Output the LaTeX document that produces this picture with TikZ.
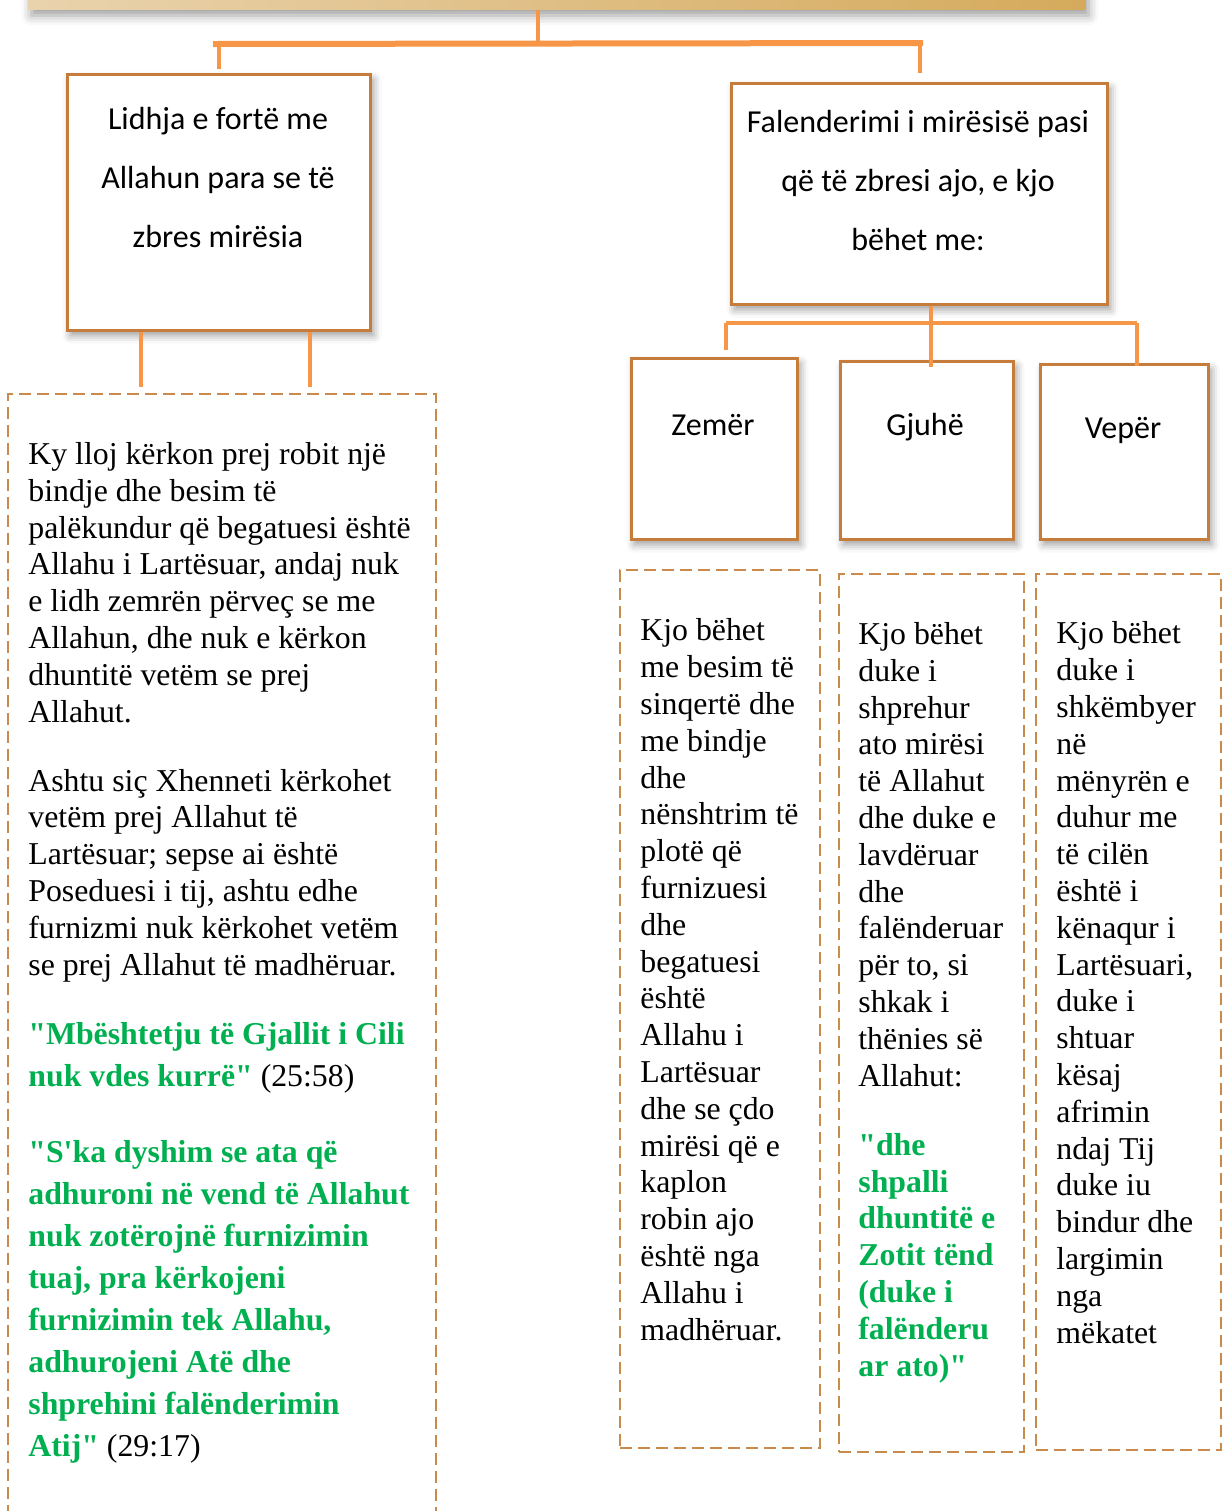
\documentclass[tikz,border=0pt]{standalone}
\usepackage{fontspec}
\setmainfont{Liberation Serif}
\newfontfamily\calibri{Carlito}
\usetikzlibrary{positioning,shadows.blur}

\definecolor{conn}{HTML}{F79646}
\definecolor{boxline}{HTML}{C67C3A}
\definecolor{dashline}{HTML}{C98B4C}
\definecolor{ayet}{HTML}{00B050}
\definecolor{barleft}{HTML}{E9D3AD}
\definecolor{barright}{HTML}{D5AA5C}

\newcommand{\ay}[1]{{\color{ayet}\bfseries #1}}
\newcommand{\qq}{\textquotedbl}

\begin{document}
\begin{tikzpicture}[x=0.5pt,y=-0.5pt,
    solidbox/.style={draw=boxline,line width=1.5pt,fill=white,anchor=north west,inner sep=0pt,
      blur shadow={shadow xshift=1.5pt,shadow yshift=-2.5pt,shadow blur radius=4pt,shadow opacity=40}},
    dashbox/.style={draw=dashline,line width=1pt,dash pattern=on 6pt off 3pt,anchor=north west,inner sep=0pt},
    wire/.style={draw=conn,line width=2pt},
    headtext/.style={font=\calibri\fontsize{16}{29.3}\selectfont,align=center,anchor=base},
    bodytext/.style={font=\fontsize{15.9}{18.4}\selectfont,align=left,anchor=base west,inner sep=0pt}]
  \path[use as bounding box] (0,0) rectangle (1227,1511);

  % boxes
  \node[anchor=north west,inner sep=0pt,left color=barleft,right color=barright,
        minimum width=528.5pt,minimum height=24.5pt,
        blur shadow={shadow xshift=1.5pt,shadow yshift=-3pt,shadow blur radius=5pt,shadow opacity=40}]
        (top) at (28,-40) {};
  \node[solidbox,minimum width=151.5pt,minimum height=128pt] (lidhja) at (66,73) {};
  \node[solidbox,minimum width=188pt,minimum height=110.5pt] (falend) at (730,82) {};
  \node[solidbox,minimum width=83pt,minimum height=90.5pt]   (zemer)  at (630,357) {};
  \node[solidbox,minimum width=86.5pt,minimum height=89pt]   (gjuhe)  at (839,360) {};
  \node[solidbox,minimum width=84pt,minimum height=87.5pt]   (veper)  at (1039,363) {};

  \node[dashbox,minimum width=214pt,minimum height=573.5pt] (dlidhja) at (7,393) {};
  \node[dashbox,minimum width=100pt,minimum height=439pt]   (dzemer)  at (619,569) {};
  \node[dashbox,minimum width=92.5pt,minimum height=439pt]  (dgjuhe)  at (838,573) {};
  \node[dashbox,minimum width=92.5pt,minimum height=438pt]  (dveper)  at (1035,573) {};

  % connectors
  \coordinate (hub)  at (538,44);
  \coordinate (hubl) at (213,44);
  \coordinate (hubr) at (923,43);
  \coordinate (hub2) at (931,323);
  \coordinate (z2)   at (726,323);
  \coordinate (v2)   at (1137,323);
  \coordinate (l1)   at (141,360);
  \coordinate (l2)   at (310,360);

  \draw[wire] (top.south -| hub) -- (hub);
  \draw[wire,line width=3pt] (hubl) -- (hubr);
  \draw[wire,shorten >=2pt] (lidhja.north |- hubl) -- (lidhja.north);
  \draw[wire,shorten >=4.5pt] (falend.north |- hubr) -- (falend.north);
  \draw[wire] (falend.south -| hub2) -- ([yshift=-3.5pt]gjuhe.north -| hub2);
  \draw[wire] (z2) -- (v2);
  \draw[wire,shorten >=3.5pt] (z2) -- (z2 |- zemer.north);
  \draw[wire,shorten >=-1.5pt] (v2) -- (v2 |- veper.north);
  \draw[wire,shorten >=3pt] (lidhja.south -| l1) -- (dlidhja.north -| l1);
  \draw[wire,shorten >=3pt] (lidhja.south -| l2) -- (dlidhja.north -| l2);

  % titles (anchored on the last line)
  \node[headtext] (lidhjatxt) at (218,247) {Lidhja e fortë me\\Allahun para se të\\zbres mirësia};
  \node[headtext] (falendtxt) at (918,250) {Falenderimi i mirësisë pasi\\që të zbresi ajo, e kjo\\bëhet me:};
  \node[headtext] (zemertxt) at (713,435) {Zemër};
  \node[headtext] (gjuhetxt) at (925,435) {Gjuhë};
  \node[headtext] (vepertxt) at (1123,438) {Vepër};

  % left column
  \node[bodytext] (p1) at (28,722) {Ky lloj kërkon prej robit një\\bindje dhe besim të\\palëkundur që begatuesi është\\Allahu i Lartësuar, andaj nuk\\e lidh zemrën përveç se me\\Allahun, dhe nuk e kërkon\\dhuntitë vetëm se prej\\Allahut.};
  \node[bodytext] (p2) at (28,975) {Ashtu siç Xhenneti kërkohet\\vetëm prej Allahut të\\Lartësuar; sepse ai është\\Poseduesi i tij, ashtu edhe\\furnizmi nuk kërkohet vetëm\\se prej Allahut të madhëruar.};
  \node[bodytext,font=\fontsize{15.9}{21}\selectfont] (p3) at (28,1086) {\ay{\qq Mbështetju të Gjallit i Cili}\\\ay{nuk vdes kurrë\qq} (25:58)};
  \node[bodytext,font=\fontsize{15.9}{21}\selectfont] (p4) at (28,1456) {\ay{\qq S\textquotesingle ka dyshim se ata që}\\\ay{adhuroni në vend të Allahut}\\\ay{nuk zotërojnë furnizimin}\\\ay{tuaj, pra kërkojeni}\\\ay{furnizimin tek Allahu,}\\\ay{adhurojeni Atë dhe}\\\ay{shprehini falënderimin}\\\ay{Atij\qq} (29:17)};

  % right columns
  \node[bodytext] (tzemer) at (640,1340) {Kjo bëhet\\me besim të\\sinqertë dhe\\me bindje\\dhe\\nënshtrim të\\plotë që\\furnizuesi\\dhe\\begatuesi\\është\\Allahu i\\Lartësuar\\dhe se çdo\\mirësi që e\\kaplon\\robin ajo\\është nga\\Allahu i\\madhëruar.};
  \node[bodytext] (tgjuhe) at (858,1086) {Kjo bëhet\\duke i\\shprehur\\ato mirësi\\të Allahut\\dhe duke e\\lavdëruar\\dhe\\falënderuar\\për to, si\\shkak i\\thënies së\\Allahut:};
  \node[bodytext] (tgjuhe2) at (858,1376) {\ay{\qq dhe}\\\ay{shpalli}\\\ay{dhuntitë e}\\\ay{Zotit tënd}\\\ay{(duke i}\\\ay{falënderu}\\\ay{ar ato)\qq}};
  \node[bodytext] (tveper) at (1056,1343) {Kjo bëhet\\duke i\\shkëmbyer\\në\\mënyrën e\\duhur me\\të cilën\\është i\\kënaqur i\\Lartësuari,\\duke i\\shtuar\\kësaj\\afrimin\\ndaj Tij\\duke iu\\bindur dhe\\largimin\\nga\\mëkatet};
\end{tikzpicture}
\end{document}
